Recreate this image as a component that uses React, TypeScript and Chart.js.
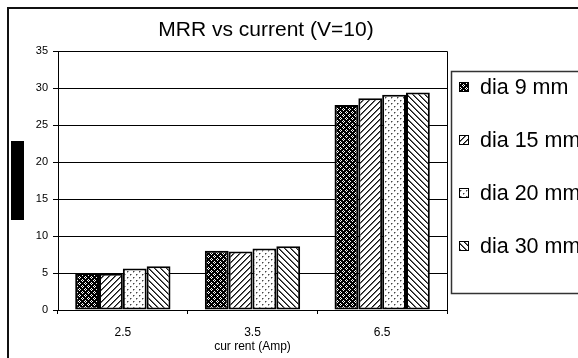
import React, { useEffect, useRef } from 'react';
import { Chart, registerables } from 'chart.js';

Chart.register(...registerables);

const TITLE = 'MRR vs current (V=10)';
const X_TITLE = 'cur rent (Amp)';
const CATEGORIES = ['2.5', '3.5', '6.5'];
const SERIES_NAMES = ['dia 9 mm', 'dia 15 mm', 'dia 20 mm', 'dia 30 mm'];
const DIA_9 = [5.0, 8.0, 27.7];
const DIA_15 = [4.9, 7.9, 28.6];
const DIA_20 = [5.6, 8.3, 29.1];
const DIA_30 = [5.9, 8.6, 29.4];
const Y_MIN = 0;
const Y_MAX = 35;
const Y_STEP = 5;

const FONT = '"Liberation Sans", Arial, sans-serif';

function makeTile(size: number, draw: (g: CanvasRenderingContext2D) => void) {
  const c = document.createElement('canvas');
  c.width = size;
  c.height = size;
  const g = c.getContext('2d') as CanvasRenderingContext2D;
  draw(g);
  return c;
}

function buildTiles() {
  const cross = makeTile(6, (g) => {
    g.fillStyle = '#000';
    g.fillRect(0, 0, 6, 6);
    g.fillStyle = '#fff';
    const pts = [[1, 0], [0, 1], [2, 1], [1, 2], [4, 3], [3, 4], [5, 4], [4, 5]];
    pts.forEach(([x, y]) => g.fillRect(x, y, 1, 1));
  });
  const fwd = makeTile(6, (g) => {
    g.fillStyle = '#fff';
    g.fillRect(0, 0, 6, 6);
    for (let x = 0; x < 6; x++) {
      for (let y = 0; y < 6; y++) {
        const k = (x + y) % 6;
        if (k === 0) { g.fillStyle = '#111'; g.fillRect(x, y, 1, 1); }
        if (k === 1) { g.fillStyle = '#666'; g.fillRect(x, y, 1, 1); }
      }
    }
  });
  const back = makeTile(6, (g) => {
    g.fillStyle = '#fff';
    g.fillRect(0, 0, 6, 6);
    for (let x = 0; x < 6; x++) {
      for (let y = 0; y < 6; y++) {
        const k = (((x - y) % 6) + 6) % 6;
        if (k === 0) { g.fillStyle = '#111'; g.fillRect(x, y, 1, 1); }
        if (k === 1) { g.fillStyle = '#666'; g.fillRect(x, y, 1, 1); }
      }
    }
  });
  const dots = makeTile(6, (g) => {
    g.fillStyle = '#fff';
    g.fillRect(0, 0, 6, 6);
    g.fillStyle = '#444';
    g.fillRect(1, 1, 1, 1);
    g.fillRect(4, 4, 1, 1);
    g.fillStyle = '#aaa';
    g.fillRect(2, 1, 1, 1);
    g.fillRect(1, 2, 1, 1);
    g.fillRect(5, 4, 1, 1);
    g.fillRect(4, 5, 1, 1);
  });
  return [cross, fwd, dots, back];
}

export default function App() {
  const ref = useRef<HTMLCanvasElement | null>(null);

  useEffect(() => {
    const canvas = ref.current;
    if (!canvas) return;
    const ctx0 = canvas.getContext('2d') as CanvasRenderingContext2D;
    const tiles = buildTiles();
    const patterns = tiles.map((t) => ctx0.createPattern(t, 'repeat') as CanvasPattern);
    const seriesValues = [DIA_9, DIA_15, DIA_20, DIA_30];

    const decor = {
      id: 'decor',
      beforeDraw(chart: any) {
        const c = chart.ctx;
        c.save();
        c.fillStyle = '#fff';
        c.fillRect(0, 0, chart.width, chart.height);
        c.restore();
      },
      afterDraw(chart: any) {
        const c = chart.ctx as CanvasRenderingContext2D;
        const a = chart.chartArea;
        c.save();
        // plot frame top/right
        c.strokeStyle = '#000';
        c.lineWidth = 1;
        c.beginPath();
        c.moveTo(Math.round(a.left) + 0.5, Math.round(a.top) + 0.5);
        c.lineTo(Math.round(a.right) + 0.5, Math.round(a.top) + 0.5);
        c.lineTo(Math.round(a.right) + 0.5, Math.round(a.bottom) + 0.5);
        c.stroke();

        // outer border
        c.strokeStyle = '#111';
        c.lineWidth = 2;
        c.beginPath();
        c.moveTo(8, chart.height + 2);
        c.lineTo(8, 8);
        c.lineTo(chart.width + 2, 8);
        c.stroke();

        // redacted y-axis title block
        c.fillStyle = '#000';
        c.fillRect(11, 141, 13, 79);

        // title
        c.fillStyle = '#000';
        c.font = '21px ' + FONT;
        c.textAlign = 'center';
        c.textBaseline = 'alphabetic';
        c.fillText(TITLE, 266, 36);

        // legend box
        c.strokeStyle = '#333';
        c.lineWidth = 1.5;
        c.strokeRect(451.5, 71.5, 200, 222);

        c.font = '21.5px ' + FONT;
        c.textAlign = 'left';
        c.textBaseline = 'middle';
        SERIES_NAMES.forEach((name, i) => {
          const cy = 87 + i * 53;
          c.fillStyle = patterns[i];
          c.fillRect(459, cy - 5, 10, 10);
          c.strokeStyle = '#000';
          c.lineWidth = 1;
          c.strokeRect(459.5, cy - 4.5, 9, 9);
          c.fillStyle = '#000';
          c.fillText(name, 480, cy + 1);
        });
        c.restore();
      },
    };

    const chart = new Chart(canvas, {
      type: 'bar',
      data: {
        labels: CATEGORIES,
        datasets: SERIES_NAMES.map((name, i) => ({
          label: name,
          data: seriesValues[i],
          backgroundColor: patterns[i] as any,
          borderColor: '#000',
          borderWidth: 2,
          borderSkipped: false,
          categoryPercentage: 0.735,
          barPercentage: 1.0,
        })),
      },
      options: {
        responsive: false,
        animation: false,
        devicePixelRatio: 1,
        layout: { padding: { left: 0, top: 51, right: 131, bottom: 0 } },
        plugins: {
          legend: { display: false },
          title: { display: false },
          tooltip: { enabled: false },
        },
        scales: {
          x: {
            ticks: { color: '#000', font: { family: FONT, size: 12 }, padding: 11 },
            grid: { display: true, drawOnChartArea: false, drawTicks: true, tickLength: 4, color: '#000', offset: true },
            border: { color: '#000', width: 1 },
            title: {
              display: true,
              text: X_TITLE,
              color: '#000',
              font: { family: FONT, size: 12 },
              padding: { top: 0, bottom: 4 },
            },
            afterFit(s: any) { s.height = 48; },
          },
          y: {
            min: Y_MIN,
            max: Y_MAX,
            ticks: { stepSize: Y_STEP, color: '#000', font: { family: FONT, size: 11 }, padding: 5 },
            grid: { color: '#000', lineWidth: 1, drawTicks: true, tickLength: 5 },
            border: { color: '#000', width: 1 },
            afterFit(s: any) { s.width = 58; },
          },
        },
      },
      plugins: [decor],
    });

    return () => chart.destroy();
  }, []);

  return (
    <div style={{ position: 'absolute', left: 0, top: 0, width: 578, height: 358 }}>
      <canvas ref={ref} width={578} height={358} style={{ display: 'block' }} />
    </div>
  );
}
